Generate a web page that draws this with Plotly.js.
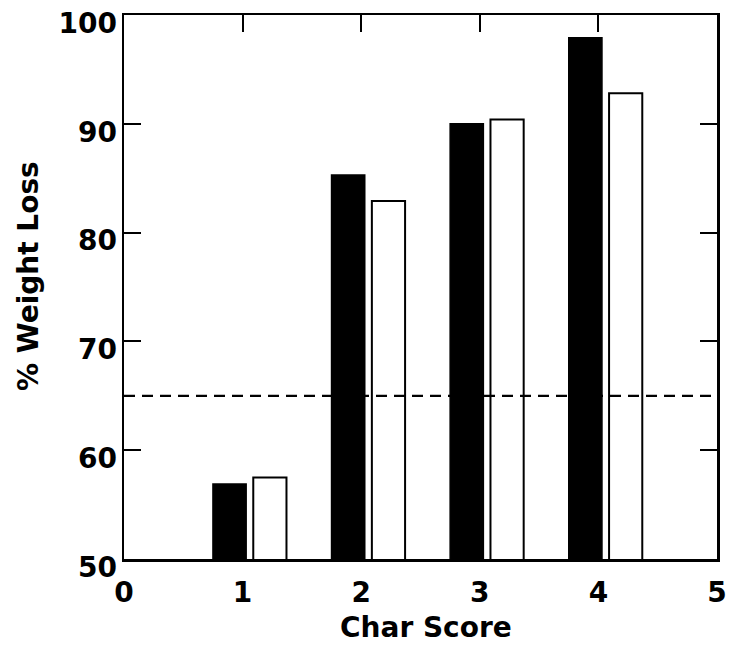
<!DOCTYPE html>
<html>
<head>
<meta charset="utf-8">
<script src="https://cdn.plot.ly/plotly-3.0.1.min.js"></script>
<style>
html,body{margin:0;padding:0;background:#fff;}
#chart{width:729px;height:652px;}
</style>
</head>
<body>
<div id="chart"></div>
<script>
var charScores = [1, 2, 3, 4];
var blackSeries = [56.9, 85.3, 90.0, 97.9];
var whiteSeries = [57.5, 82.9, 90.4, 92.8];
var thresholdValue = 65;
var xTickVals = [0, 1, 2, 3, 4, 5];
var yTickVals = [50, 60, 70, 80, 90, 100];
var xTitle = 'Char Score';
var yTitle = '% Weight Loss';

var fontFam = '"DejaVu Sans", Arial, sans-serif';
var titleFont = {family: fontFam, size: 28, weight: 'bold', color: '#000'};

var traces = [
  {
    type: 'bar', x: charScores, y: blackSeries,
    width: 0.28, offset: -0.25,
    marker: {color: '#000', line: {color: '#000', width: 1.5}},
    hoverinfo: 'x+y', showlegend: false
  },
  {
    type: 'bar', x: charScores, y: whiteSeries,
    width: 0.28, offset: 0.09,
    marker: {color: 'rgba(255,255,255,0)', line: {color: '#000', width: 2}},
    hoverinfo: 'x+y', showlegend: false
  }
];

var layout = {
  width: 729, height: 652,
  margin: {l: 124, r: 12, t: 15, b: 93},
  paper_bgcolor: '#fff', plot_bgcolor: '#fff',
  barmode: 'overlay',
  showlegend: false,
  font: {family: fontFam, color: '#000'},
  xaxis: {
    range: [0, 5], tickvals: xTickVals, ticktext: xTickVals.map(String),
    ticks: 'inside', ticklen: 17, tickwidth: 2, tickcolor: '#000',
    showline: true, linewidth: 2.5, linecolor: '#000', mirror: 'ticks',
    showgrid: false, zeroline: false,
    tickfont: {family: fontFam, size: 28, weight: 'bold', color: '#000'},
    ticklabelstandoff: 7, ticklabeloverflow: 'allow'
  },
  yaxis: {
    range: [50, 100.001], tickvals: yTickVals, ticktext: yTickVals.map(String),
    ticks: 'inside', ticklen: 17, tickwidth: 2, tickcolor: '#000',
    showline: true, linewidth: 2.5, linecolor: '#000', mirror: 'ticks',
    showgrid: false, zeroline: false,
    tickfont: {family: fontFam, size: 28, weight: 'bold', color: '#000'},
    ticklabelstandoff: -1, ticklabelshift: 8, ticklabeloverflow: 'allow'
  },
  annotations: [
    {text: xTitle, xref: 'paper', yref: 'paper', x: 0.509, y: -0.1265,
     xanchor: 'center', yanchor: 'middle', showarrow: false, font: titleFont},
    {text: yTitle, xref: 'paper', yref: 'paper', x: -0.162, y: 0.52, textangle: -90,
     xanchor: 'center', yanchor: 'middle', showarrow: false, font: titleFont}
  ],
  shapes: [{
    type: 'line', xref: 'x', yref: 'y', x0: 0, x1: 5, y0: thresholdValue, y1: thresholdValue,
    line: {color: '#000', width: 2.2, dash: '11px,7px'}, layer: 'above'
  }]
};

Plotly.newPlot('chart', traces, layout, {displayModeBar: false, staticPlot: true});
</script>
</body>
</html>
